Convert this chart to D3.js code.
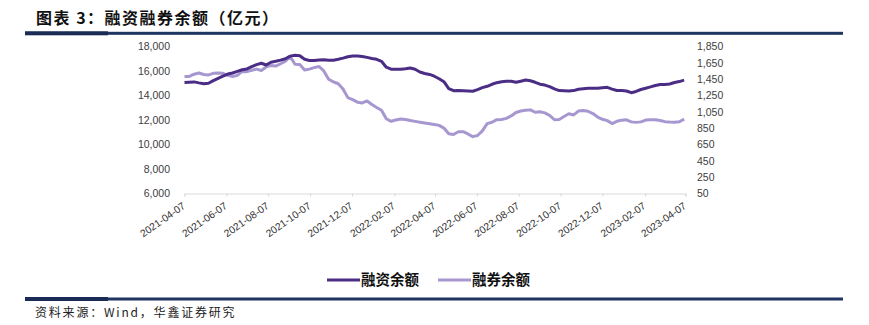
<!DOCTYPE html>
<html>
<head>
<meta charset="utf-8">
<script src="https://cdn.jsdelivr.net/npm/d3@7/dist/d3.min.js"></script>
<style>
  body { margin: 0; background: #fff; }
  svg { display: block; }
</style>
</head>
<body>
<svg id="chart" width="869" height="325"></svg>
<script>
// Weekly observations starting on this date
const firstWeek = "2021-04-07";

// X-axis tick labels (every two months)
const tickLabels = [
  "2021-04-07", "2021-06-07", "2021-08-07", "2021-10-07", "2021-12-07",
  "2022-02-07", "2022-04-07", "2022-06-07", "2022-08-07", "2022-10-07",
  "2022-12-07", "2023-02-07", "2023-04-07"
];

// Axis ticks
const leftTicks = [6000, 8000, 10000, 12000, 14000, 16000, 18000];
const rightTicks = [50, 250, 450, 650, 850, 1050, 1250, 1450, 1650, 1850];

// 融资余额 (亿元, left axis)
const marginBalance = [
  15060, 15085, 15110, 15030, 14960, 15000, 15210, 15400, 15580, 15750,
  15840, 15975, 16100, 16170, 16360, 16520, 16630, 16490, 16720, 16790,
  16890, 17000, 17215, 17280, 17240, 16955, 16860, 16860, 16905, 16920,
  16880, 16880, 16960, 17050, 17165, 17225, 17215, 17190, 17110, 17020,
  16955, 16790, 16310, 16150, 16150, 16150, 16190, 16250, 16140, 15920,
  15800, 15720, 15575, 15370, 15125, 14570, 14390, 14400, 14385, 14370,
  14350, 14480, 14640, 14750, 14915, 15045, 15125, 15160, 15160, 15080,
  15170, 15265, 15200, 15080, 14920, 14850, 14725, 14540, 14400, 14385,
  14370, 14400, 14515, 14555, 14590, 14595, 14595, 14640, 14670, 14525,
  14410, 14410, 14370, 14230, 14330, 14490, 14595, 14700, 14815, 14900,
  14900, 14940, 15060, 15135, 15255
];

// 融券余额 (亿元, right axis)
const shortBalance = [
  1483, 1483, 1511, 1526, 1507, 1502, 1521, 1526, 1522, 1496,
  1483, 1496, 1545, 1542, 1559, 1573, 1557, 1600, 1616, 1610,
  1639, 1669, 1726, 1633, 1630, 1563, 1573, 1591, 1605, 1551,
  1449, 1417, 1394, 1329, 1224, 1199, 1168, 1159, 1183, 1139,
  1103, 1069, 965, 934, 950, 963, 957, 944, 933, 923,
  914, 904, 895, 884, 851, 781, 772, 806, 807, 779,
  746, 760, 816, 906, 923, 954, 957, 970, 1000, 1042,
  1060, 1069, 1074, 1045, 1051, 1037, 1007, 953, 957, 992,
  1026, 1012, 1059, 1067, 1057, 1029, 986, 959, 942, 907,
  934, 948, 952, 927, 921, 927, 949, 953, 953, 944,
  930, 925, 923, 928, 961
];

const seriesNames = ["融资余额", "融券余额"];
const seriesColors = ["#4b2d85", "#a797d0"];

const parse = d3.timeParse("%Y-%m-%d");
const start = parse(firstWeek);
const weeks = marginBalance.map((_, i) => d3.timeDay.offset(start, 7 * i));

const svg = d3.select("#chart");
const plot = { left: 184.5, right: 685.5, top: 46.5, bottom: 193.5 };

const x = d3.scaleTime()
  .domain([parse(tickLabels[0]), parse(tickLabels[tickLabels.length - 1])])
  .range([plot.left, plot.right]);
const yL = d3.scaleLinear().domain([6000, 18000]).range([plot.bottom, plot.top]);
const yR = d3.scaleLinear().domain([50, 1850]).range([plot.bottom, plot.top]);

const axisFont = "'Liberation Sans', Arial, sans-serif";
const cjkFont = "'Noto Sans CJK SC', 'Noto Sans', sans-serif";

// Title
svg.append("text")
  .attr("x", 36).attr("y", 23.5)
  .attr("font-family", cjkFont).attr("font-weight", 700)
  .attr("font-size", 16).attr("letter-spacing", 1.5).attr("fill", "#111")
  .text("图表 3：融资融券余额（亿元）");

// Rules under the title and above the source note
function rule(y) {
  svg.append("rect").attr("x", 25).attr("y", y - 1.5).attr("width", 818).attr("height", 3).attr("fill", "#1f3460");
  svg.append("rect").attr("x", 25).attr("y", y - 2).attr("width", 83).attr("height", 4).attr("fill", "#1a2c55");
}
rule(33.3);
rule(299);

// Left axis
const fmt = d3.format(",");
svg.append("g")
  .selectAll("text")
  .data(leftTicks)
  .join("text")
  .attr("x", 170).attr("y", d => yL(d))
  .attr("dy", "0.35em").attr("text-anchor", "end")
  .attr("font-family", axisFont).attr("font-size", 10.5).attr("fill", "#404040")
  .text(d => fmt(d));

// Right axis
svg.append("g")
  .selectAll("text")
  .data(rightTicks)
  .join("text")
  .attr("x", 697).attr("y", d => yR(d))
  .attr("dy", "0.35em").attr("text-anchor", "start")
  .attr("font-family", axisFont).attr("font-size", 10.5).attr("fill", "#404040")
  .text(d => fmt(d));

// Bottom axis
const xAxis = d3.axisBottom(x)
  .tickValues(tickLabels.map(parse))
  .tickSize(3)
  .tickFormat(d3.timeFormat("%Y-%m-%d"));
const gx = svg.append("g")
  .attr("transform", `translate(0,${plot.bottom})`)
  .call(xAxis);
gx.select(".domain").attr("stroke", "#d9d9d9").attr("stroke-width", 1);
gx.selectAll(".tick line").attr("stroke", "#d9d9d9");
gx.selectAll(".tick text")
  .attr("font-family", axisFont).attr("font-size", 10.2).attr("fill", "#333")
  .attr("text-anchor", "end")
  .attr("x", 0).attr("y", 0).attr("dy", 0)
  .attr("transform", "translate(1,14) rotate(-35)");

// Lines
const lineL = d3.line().x((d, i) => x(weeks[i])).y(d => yL(d));
const lineR = d3.line().x((d, i) => x(weeks[i])).y(d => yR(d));

svg.append("path")
  .datum(shortBalance)
  .attr("d", lineR)
  .attr("fill", "none").attr("stroke", seriesColors[1])
  .attr("stroke-width", 3).attr("stroke-linejoin", "round");

svg.append("path")
  .datum(marginBalance)
  .attr("d", lineL)
  .attr("fill", "none").attr("stroke", seriesColors[0])
  .attr("stroke-width", 3).attr("stroke-linejoin", "round");

// Legend
const legendItems = [
  { x: 327, name: seriesNames[0], color: seriesColors[0] },
  { x: 438, name: seriesNames[1], color: seriesColors[1] }
];
const lg = svg.append("g").selectAll("g").data(legendItems).join("g")
  .attr("transform", d => `translate(${d.x},280)`);
lg.append("line").attr("x1", 0).attr("x2", 33).attr("y1", 0).attr("y2", 0)
  .attr("stroke", d => d.color).attr("stroke-width", 3);
lg.append("text").attr("x", 34).attr("y", 0).attr("dy", "0.36em")
  .attr("font-family", cjkFont).attr("font-weight", 700)
  .attr("font-size", 14.5).attr("fill", "#111")
  .text(d => d.name);

// Source note
svg.append("text")
  .attr("x", 35).attr("y", 317)
  .attr("font-family", cjkFont).attr("font-size", 12)
  .attr("letter-spacing", 1.8).attr("fill", "#222")
  .text("资料来源：Wind，华鑫证券研究");
</script>
</body>
</html>
